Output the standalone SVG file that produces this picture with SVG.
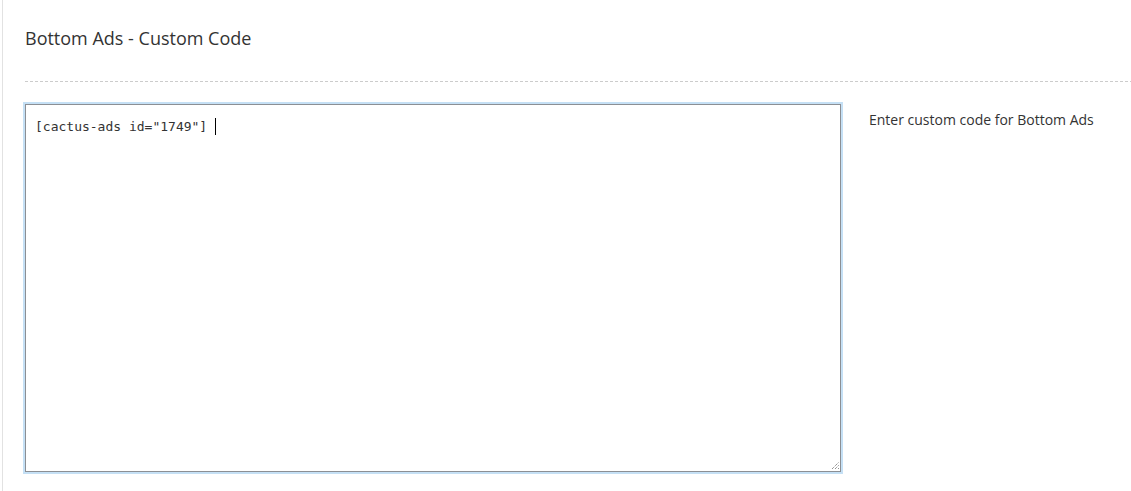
<svg xmlns="http://www.w3.org/2000/svg" width="1131" height="491" viewBox="0 0 1131 491">
<style>
.t{font-family:"Open Sans","Noto Sans",sans-serif;fill:#333}
.m{font-family:"DejaVu Sans Mono","Liberation Mono",monospace;fill:#333;font-size:13px}
</style>
<rect width="1131" height="491" fill="#fff"/>
<line x1="2.5" y1="0" x2="2.5" y2="491" stroke="#e2e2e2"/>
<g id="title"><text class="t" x="25" y="45" font-size="18">Bottom Ads - Custom Code</text></g>
<line x1="25" y1="81.5" x2="1131" y2="81.5" stroke="#ccc" stroke-dasharray="3,2"/>
<g id="textarea">
<rect x="24.5" y="103.5" width="817" height="369" fill="none" stroke="#c5e0f5" stroke-width="3"/>
<rect x="25.5" y="104.5" width="815" height="367" fill="#fff" stroke="#8c8f94"/>
<text class="m" x="35" y="131">[cactus-ads id="1749"]</text>
<line x1="215.5" y1="118" x2="215.5" y2="135" stroke="#000"/>
<path d="M832 469L839 462M835 469L839 465M838 469L839 468" stroke="#666" stroke-dasharray="1,1"/>
</g>
<g id="desc"><text class="t" x="869" y="125" font-size="14">Enter custom code for Bottom Ads</text></g>
</svg>
